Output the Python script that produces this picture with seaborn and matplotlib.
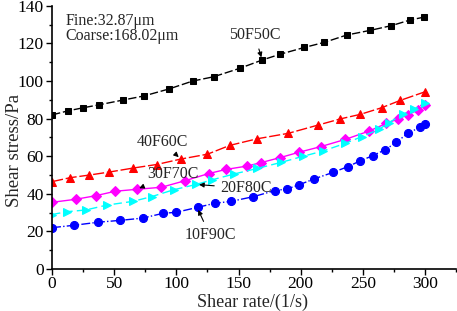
import numpy as np
import pandas as pd
import matplotlib
matplotlib.use("Agg")
import matplotlib.pyplot as plt
from matplotlib.ticker import MultipleLocator
import seaborn as sns

# shear rate (1/s) and shear stress (Pa)
x_50f50c = [0, 13, 25, 38, 57, 74, 94, 113, 130, 151, 169, 183, 203, 219, 237, 256, 273, 288, 299]
y_50f50c = [82, 84.2, 85.8, 87.4, 89.9, 92.1, 95.8, 100, 102.3, 106.8, 111.2, 114.2, 117.9, 120.6, 124.5, 127, 129.5, 132.5, 134]

x_40f60c = [0, 14.5, 30, 46, 65, 84, 103.5, 125, 143, 165, 190, 214, 232, 248, 265, 280, 300]
y_40f60c = [46.5, 48.6, 50.0, 51.6, 53.7, 55.6, 58.5, 61.1, 65.8, 69.3, 72.2, 76.6, 79.9, 82.3, 85.8, 89.7, 94.3]

x_30f70c = [0, 19, 35, 51, 68, 88, 107, 126, 140, 157, 168, 183, 199, 216, 236, 255, 269, 278, 286, 294, 300]
y_30f70c = [35.5, 37.1, 39, 41.4, 42.4, 43.5, 47, 50.8, 53, 54.8, 56.6, 59.2, 62.2, 65.1, 69, 73.4, 77.5, 79.8, 82, 84.6, 87.2]

x_20f80c = [0, 12, 27, 44, 65, 80, 98, 116, 129, 146, 165, 184, 202, 218, 236, 249, 263, 271, 282, 291, 300]
y_20f80c = [29, 30.5, 31.4, 34, 36, 38.5, 42.2, 45, 47.5, 50.5, 53.5, 56.7, 60, 62.8, 66.9, 70.4, 74.3, 77.9, 82.3, 85, 88.3]

x_10f90c = [0, 18, 37, 55, 73, 89, 100, 117, 131, 144, 162, 179, 189, 199, 211, 226, 238, 248, 258, 268, 277, 286, 296, 300]
y_10f90c = [22, 23.3, 24.9, 25.9, 27.1, 29.6, 30.2, 32.8, 35, 36, 38.5, 41.7, 42.6, 44.9, 48, 51.4, 54.5, 57.6, 60.3, 63.5, 67.4, 72.2, 75.4, 77]

series = [
    ("50F50C", x_50f50c, y_50f50c, "black", "s", (0, (6, 2)), 5),
    ("40F60C", x_40f60c, y_40f60c, "red", "^", (0, (8, 2)), 6),
    ("30F70C", x_30f70c, y_30f70c, "magenta", "D", "-", 4.8),
    ("20F80C", x_20f80c, y_20f80c, "cyan", ">", (0, (6, 3)), 6),
    ("10F90C", x_10f90c, y_10f90c, "blue", "o", "-.", 5.8),
]

sns.set_style("ticks")
plt.rcParams["font.family"] = ["Liberation Serif", "DejaVu Serif"]
plt.rcParams["mathtext.fontset"] = "stix"

fig = plt.figure(figsize=(4.57, 3.11), dpi=100)
ax = fig.add_axes([0.114, 0.135, 0.884, 0.846])

for name, xs, ys, col, mk, ls, ms in series:
    sns.lineplot(x=xs, y=ys, ax=ax, color=col, marker=mk, linestyle=ls,
                 markersize=ms, markeredgecolor=col, linewidth=1.0, sort=False)

ax.set_xlim(0, 325)
ax.set_ylim(0, 140)
ax.xaxis.set_major_locator(MultipleLocator(50))
ax.xaxis.set_minor_locator(MultipleLocator(25))
ax.yaxis.set_major_locator(MultipleLocator(20))
ax.yaxis.set_minor_locator(MultipleLocator(10))
ax.tick_params(which="major", direction="out", length=4, width=1, pad=2,
               labelsize=12.5, colors="black")
ax.tick_params(axis="x", which="major", pad=1)
ax.tick_params(which="minor", direction="out", length=2.5, width=1, colors="black")
sns.despine(ax=ax)
for sp in ["left", "bottom"]:
    ax.spines[sp].set_linewidth(1.2)
    ax.spines[sp].set_color("black")

ax.set_xlabel("Shear rate/(1/s)", fontsize=13)
ax.set_ylabel("Shear stress/Pa", fontsize=13.5)
ax.xaxis.label.set_va("center")
ax.xaxis.set_label_coords(0.497, -0.125)
ax.yaxis.label.set_va("center")
ax.yaxis.set_label_coords(-0.094, 0.45)

ax.text(10.5, 132, "Fine:32.87\u03bcm", fontsize=11.5, va="center", ha="left")
ax.text(10.5, 124, "Coarse:168.02\u03bcm", fontsize=11.5, va="center", ha="left")

arrow = dict(arrowstyle="-|>", color="black", lw=0.8, mutation_scale=7)
ax.annotate("50F50C", xy=(169, 111.2), xytext=(163, 124.5), fontsize=11.5,
            ha="center", va="center", arrowprops=arrow)
ax.annotate("40F60C", xy=(103.5, 58.5), xytext=(89, 67.5), fontsize=11.5,
            ha="center", va="center", arrowprops=arrow)
ax.annotate("30F70C", xy=(68, 42.4), xytext=(97, 50.5), fontsize=11.5,
            ha="center", va="center", arrowprops=arrow)
ax.annotate("20F80C", xy=(116, 45), xytext=(156, 43), fontsize=11.5,
            ha="center", va="center", arrowprops=arrow)
ax.annotate("10F90C", xy=(116.6, 32.8), xytext=(127, 18), fontsize=11.5,
            ha="center", va="center", arrowprops=arrow)

fig.savefig("out.png", dpi=100)
